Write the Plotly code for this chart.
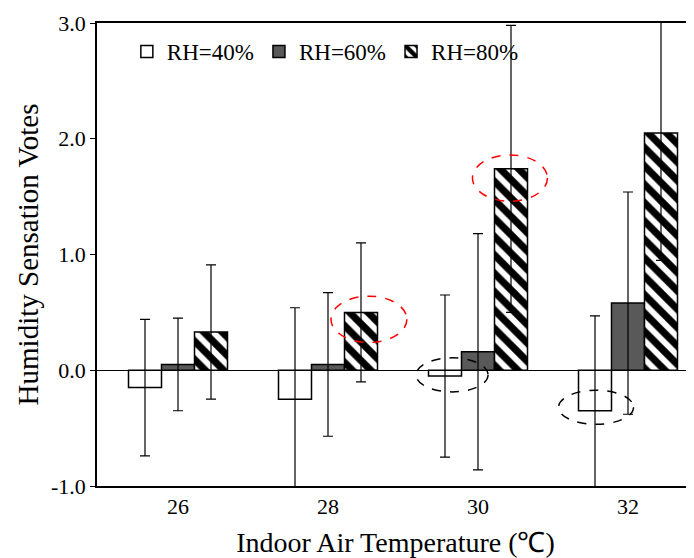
import plotly.graph_objects as go

temps = ["26", "28", "30", "32"]
rh40 = [-0.15, -0.25, -0.05, -0.35]
rh40_err = [0.59, 0.79, 0.70, 0.82]
rh60 = [0.05, 0.05, 0.16, 0.58]
rh60_err = [0.40, 0.62, 1.02, 0.96]
rh80 = [0.33, 0.50, 1.74, 2.05]
rh80_err = [0.58, 0.60, 1.24, 1.10]
yticks = [-1.0, 0.0, 1.0, 2.0, 3.0]
ytick_labels = ["-1.0", "0.0", "1.0", "2.0", "3.0"]

xs = list(range(len(temps)))
font = dict(family="Liberation Serif, Times New Roman, serif", color="black")
err = lambda e: dict(type="data", array=e, color="black", thickness=1.2, width=5)
outline = dict(color="black", width=1.5)

fig = go.Figure()
fig.add_bar(x=xs, y=rh40, name="RH=40%", marker=dict(color="white", line=outline), error_y=err(rh40_err))
fig.add_bar(x=xs, y=rh60, name="RH=60%", marker=dict(color="#595959", line=outline), error_y=err(rh60_err))
fig.add_bar(x=xs, y=rh80, name="RH=80%", marker=dict(color="white", line=outline,
            pattern=dict(shape="\\", fgcolor="black", fgopacity=1, bgcolor="white", size=13, solidity=0.55)),
            error_y=err(rh80_err))

ell = [(1.273, 0.44, 0.253, 0.2, "red"), (2.213, 1.66, 0.25, 0.2, "red"),
       (1.827, -0.04, 0.24, 0.147, "black"), (2.787, -0.32, 0.25, 0.147, "black")]
for cx, cy, rx, ry, c in ell:
    fig.add_shape(type="circle", xref="x", yref="y", x0=cx-rx, x1=cx+rx, y0=cy-ry, y1=cy+ry,
                  line=dict(color=c, width=1.5, dash="dash"))

fig.update_layout(
    width=694, height=558, plot_bgcolor="white", paper_bgcolor="white",
    margin=dict(l=89, r=8, t=15, b=80, autoexpand=False), font=dict(size=22, **font),
    barmode="group", bargap=0.34, bargroupgap=0,
    legend=dict(orientation="h", x=0.05, y=0.985, xanchor="left", yanchor="top",
                bgcolor="rgba(0,0,0,0)", font=dict(size=23, **font), itemwidth=30, traceorder="normal"),
    showlegend=True,
)
fig.update_xaxes(range=[-0.54, 3.44], tickvals=xs, ticktext=temps, showline=True, linecolor="black",
                 linewidth=1.5, mirror=True, automargin=False,
                 title=dict(text="Indoor Air Temperature (℃)", font=dict(size=28, **font), standoff=14),
                 showgrid=False, ticks="", tickfont=dict(size=22, **font))
fig.update_yaxes(range=[-1.0, 3.0], tickvals=yticks, ticktext=ytick_labels, showline=True, linecolor="black",
                 linewidth=1.5, automargin=False,
                 ticks="outside", ticklen=5, tickcolor="black", showgrid=False,
                 zeroline=True, zerolinecolor="black", zerolinewidth=1,
                 title=dict(text="Humidity Sensation Votes", font=dict(size=29, **font), standoff=4),
                 tickfont=dict(size=22, **font))
fig.write_html("out.html")
